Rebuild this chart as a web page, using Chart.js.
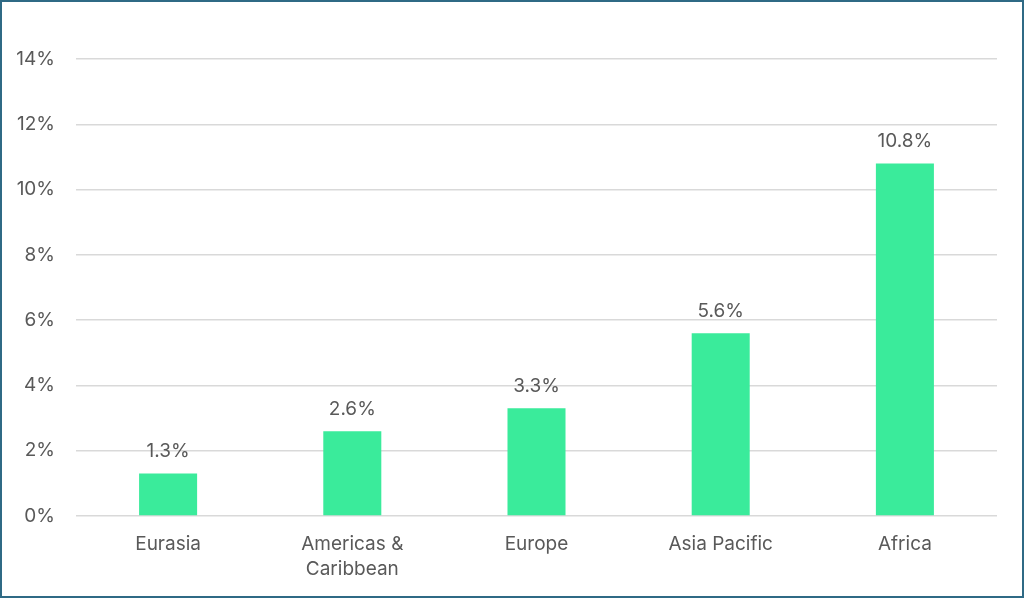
<!DOCTYPE html>
<html><head><meta charset="utf-8">
<script src="https://cdn.jsdelivr.net/npm/chart.js@4"></script>
<style>
html,body{margin:0;padding:0;background:#fff;}
#wrap{position:relative;width:1024px;height:598px;}
#frame{position:absolute;left:0;top:0;width:1024px;height:598px;box-sizing:border-box;border:2px solid #2f6a85;pointer-events:none;}
</style></head>
<body>
<div id="wrap"><canvas id="c" width="1024" height="598"></canvas><div id="frame"></div></div>
<script>
const categories = [["Eurasia"], ["Americas &", "Caribbean"], ["Europe"], ["Asia Pacific"], ["Africa"]];
const values = [1.3, 2.6, 3.3, 5.6, 10.8];
const yTicks = [0, 2, 4, 6, 8, 10, 12, 14];

const FONT = "Inter, 'Open Sans', sans-serif";
const TXT = '#595959';

const labelPlugin = {
  id: 'vlabels',
  afterDatasetsDraw(chart) {
    const ctx = chart.ctx;
    const meta = chart.getDatasetMeta(0);
    ctx.save();
    ctx.font = '19px ' + FONT;
    ctx.fillStyle = TXT;
    ctx.textAlign = 'center';
    ctx.textBaseline = 'middle';
    meta.data.forEach((bar, i) => {
      ctx.fillText(values[i].toFixed(1) + '%', bar.x, bar.y - 22);
    });
    ctx.restore();
  }
};

new Chart(document.getElementById('c'), {
  type: 'bar',
  data: {
    labels: categories,
    datasets: [{
      data: values,
      backgroundColor: '#3aeb9b',
      categoryPercentage: 1,
      barPercentage: 0.315
    }]
  },
  options: {
    responsive: false,
    animation: false,
    events: [],
    layout: { padding: { top: 59, right: 27, left: 0, bottom: 0 } },
    plugins: { legend: { display: false }, tooltip: { enabled: false } },
    scales: {
      x: {
        grid: { display: false, drawTicks: false },
        border: { display: false },
        ticks: { color: TXT, font: { family: FONT, size: 19, lineHeight: 1.32 }, padding: 16, maxRotation: 0, autoSkip: false },
        afterFit(s) { s.height = 82; }
      },
      y: {
        min: 0, max: 14,
        afterBuildTicks(s) { s.ticks = yTicks.map(v => ({ value: v })); },
        grid: { color: '#d9d9d9', lineWidth: 1.5, drawTicks: false },
        border: { display: false },
        ticks: { color: TXT, font: { family: FONT, size: 19 }, padding: 21, callback: v => v + '%' },
        afterFit(s) { s.width = 76; }
      }
    }
  },
  plugins: [labelPlugin]
});
</script>
</body></html>
